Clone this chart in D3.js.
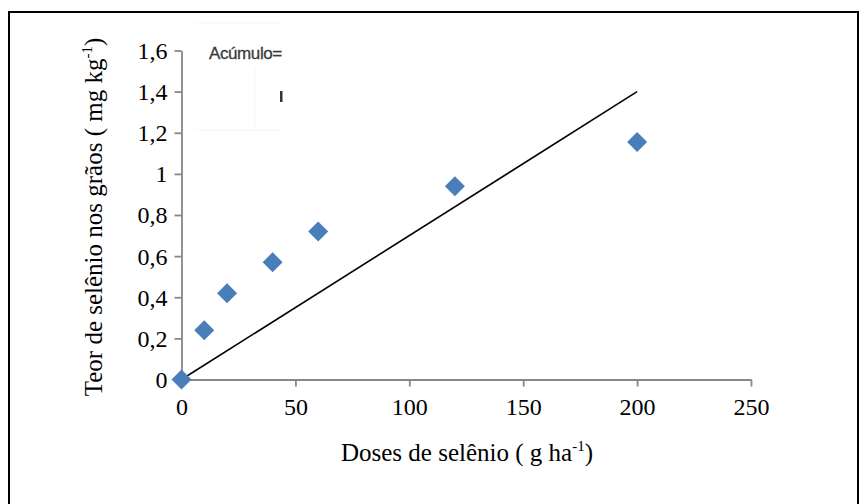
<!DOCTYPE html>
<html>
<head>
<meta charset="utf-8">
<script src="https://cdn.jsdelivr.net/npm/d3@7"></script>
<style>
  body { margin: 0; background: #fff; }
</style>
</head>
<body>
<div id="chart"></div>
<script>
// data
var doses = [0, 10, 20, 40, 60, 120, 200];
var teor = [0, 0.24, 0.42, 0.57, 0.72, 0.94, 1.155];
var lineDoses = [0, 200];
var lineTeor = [0, 1.4];
var xTicks = [0, 50, 100, 150, 200, 250];
var yTicks = [0, 0.2, 0.4, 0.6, 0.8, 1, 1.2, 1.4, 1.6];

var width = 866, height = 504;
var serif = "'Liberation Serif', 'Times New Roman', serif";

var svg = d3.select("#chart")
  .append("svg")
  .attr("width", width)
  .attr("height", height);

// outer frame (bottom edge runs off the picture)
svg.append("rect")
  .attr("x", 9).attr("y", 12)
  .attr("width", 849).attr("height", 520)
  .attr("fill", "none")
  .attr("stroke", "#000")
  .attr("stroke-width", 2);

var x = d3.scaleLinear().domain([0, 250]).range([181.5, 751]);
var y = d3.scaleLinear().domain([0, 1.6]).range([379.5, 50.5]);

var fmt = function(d) { return String(d).replace(".", ","); };

// faint leftover box around the "Acúmulo" label
svg.append("path")
  .attr("d", "M195,23H283M255,68V130M195,130H283")
  .attr("stroke", "#f6f6f6")
  .attr("fill", "none");

var xAxis = svg.append("g")
  .attr("transform", "translate(0," + y(0) + ")")
  .call(d3.axisBottom(x).tickValues(xTicks).tickSize(7).tickSizeOuter(0).tickFormat(fmt).tickPadding(11));

var yAxis = svg.append("g")
  .attr("transform", "translate(" + x(0) + ",0)")
  .call(d3.axisLeft(y).tickValues(yTicks).tickSize(7).tickSizeOuter(0).tickFormat(fmt).tickPadding(7));

[xAxis, yAxis].forEach(function(a) {
  a.attr("font-family", serif).attr("font-size", 24);
  a.select(".domain").attr("stroke", "#878787").attr("stroke-width", 1.8);
  a.selectAll(".tick line").attr("stroke", "#878787").attr("stroke-width", 1.8);
  a.selectAll(".tick text")
    .style("font-family", serif)
    .style("font-size", "24px")
    .attr("fill", "#000");
});
yAxis.selectAll(".tick text").attr("dy", "0.33em");

// linear fit line
var line = d3.line()
  .x(function(d) { return x(d[0]); })
  .y(function(d) { return y(d[1]); });

svg.append("path")
  .datum(d3.zip(lineDoses, lineTeor))
  .attr("d", line)
  .attr("fill", "none")
  .attr("stroke", "#000")
  .attr("stroke-width", 1.6);

// diamond markers
var diamond = d3.symbol().type(d3.symbolSquare).size(200);

svg.selectAll(".pt")
  .data(d3.zip(doses, teor))
  .enter().append("path")
  .attr("class", "pt")
  .attr("d", diamond)
  .attr("transform", function(d) {
    return "translate(" + x(d[0]) + "," + y(d[1]) + ") rotate(45)";
  })
  .attr("fill", "#4a7ebb");

// axis titles
var xt = svg.append("text")
  .attr("x", 467).attr("y", 461)
  .attr("text-anchor", "middle")
  .style("font-family", serif)
  .style("font-size", "25px");
xt.append("tspan").text("Doses de selênio ( g ha");
xt.append("tspan").style("font-size", "15px").attr("dy", -10).text("-1");
xt.append("tspan").attr("dy", 10).text(")");

var yt = svg.append("text")
  .attr("transform", "translate(102,217) rotate(-90)")
  .attr("text-anchor", "middle")
  .style("font-family", serif)
  .style("font-size", "25px");
yt.append("tspan").text("Teor de selênio nos grãos ( mg kg");
yt.append("tspan").style("font-size", "15px").attr("dy", -10).text("-1");
yt.append("tspan").attr("dy", 10).text(")");

// stray label from the original
svg.append("text")
  .attr("x", 209).attr("y", 59)
  .style("font-family", "'Liberation Sans Narrow', 'Liberation Sans', sans-serif")
  .style("font-size", "17px")
  .style("letter-spacing", "-0.4px")
  .style("fill", "#3a3a3a")
  .style("stroke", "#3a3a3a")
  .style("stroke-width", "0.3px")
  .text("Acúmulo=");

svg.append("rect")
  .attr("x", 280).attr("y", 91)
  .attr("width", 2.5).attr("height", 11)
  .attr("fill", "#333");
</script>
</body>
</html>
